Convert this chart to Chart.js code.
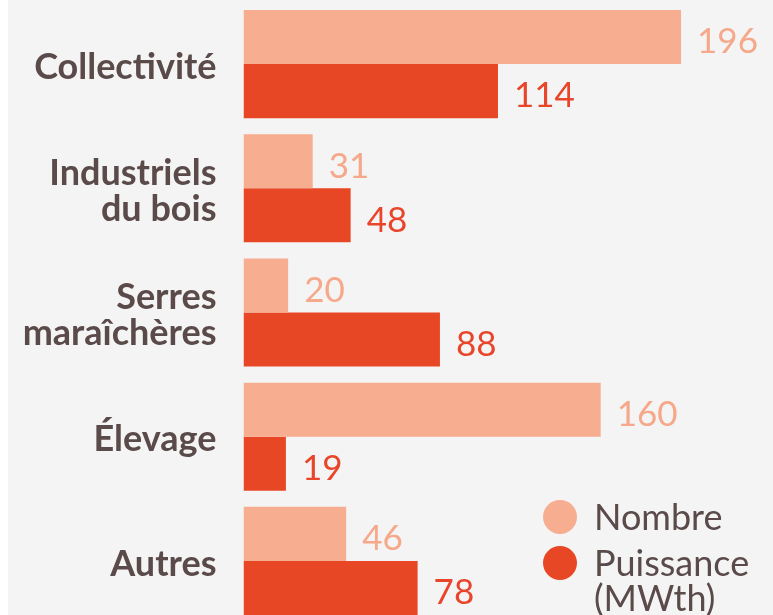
<!DOCTYPE html>
<html>
<head>
<meta charset="utf-8">
<script src="https://cdn.jsdelivr.net/npm/chart.js@4"></script>
<style>
  html, body { margin: 0; padding: 0; background: #ffffff; overflow: hidden; width: 773px; height: 615px; }
  #wrap { position: absolute; left: 0; top: 0; width: 773px; height: 625px; }
</style>
</head>
<body>
<div id="wrap"><canvas id="c" width="773" height="625"></canvas></div>
<script>
const categories = ['Collectivité', ['Industriels', 'du bois'], ['Serres', 'maraîchères'], 'Élevage', 'Autres'];
const nombre = [196, 31, 20, 160, 46];
const puissance = [114, 48, 88, 19, 78];
const seriesNames = ['Nombre', 'Puissance (MWth)'];
const legendLines = [['Nombre'], ['Puissance', '(MWth)']];

const barColors = ['#f7ad8f', '#e84726'];
const labelColors = ['#f6a88a', '#e8452a'];
const textColor = '#5a4a4a';

const bgPlugin = {
  id: 'bg',
  beforeDraw(chart) {
    const ctx = chart.ctx;
    ctx.save();
    ctx.fillStyle = '#f4f4f4';
    ctx.fillRect(8, 0, chart.width - 8, chart.height);
    ctx.restore();
  }
};

const valueLabels = {
  id: 'valueLabels',
  afterDatasetsDraw(chart) {
    const ctx = chart.ctx;
    ctx.save();
    ctx.font = '35px Lato';
    ctx.textAlign = 'left';
    ctx.textBaseline = 'middle';
    chart.data.datasets.forEach((ds, di) => {
      const meta = chart.getDatasetMeta(di);
      ctx.fillStyle = labelColors[di];
      meta.data.forEach((bar, i) => {
        ctx.fillText(String(ds.data[i]), bar.x + 16, bar.y + 5);
      });
    });
    ctx.restore();
  }
};

const customLegend = {
  id: 'customLegend',
  afterDraw(chart) {
    const ctx = chart.ctx;
    ctx.save();
    const cx = 560;
    const rows = [517, 563];
    ctx.font = '36px Lato';
    ctx.textAlign = 'left';
    ctx.textBaseline = 'alphabetic';
    chart.data.datasets.forEach((ds, di) => {
      const cy = rows[di];
      ctx.fillStyle = ds.backgroundColor;
      ctx.beginPath();
      ctx.arc(cx, cy, 17, 0, Math.PI * 2);
      ctx.fill();
      ctx.fillStyle = textColor;
      legendLines[di].forEach((line, li) => {
        ctx.fillText(line, 594, cy + 13 + li * 35);
      });
    });
    ctx.restore();
  }
};

new Chart(document.getElementById('c'), {
  type: 'bar',
  data: {
    labels: categories,
    datasets: [
      { label: seriesNames[0], data: nombre, backgroundColor: barColors[0], borderWidth: 0, barPercentage: 1, categoryPercentage: 0.87 },
      { label: seriesNames[1], data: puissance, backgroundColor: barColors[1], borderWidth: 0, barPercentage: 1, categoryPercentage: 0.87 }
    ]
  },
  options: {
    indexAxis: 'y',
    responsive: false,
    animation: false,
    devicePixelRatio: 1,
    layout: { padding: { top: 2, bottom: 2, left: 0, right: 0 } },
    plugins: { legend: { display: false }, tooltip: { enabled: false } },
    scales: {
      x: { display: false, min: 0, max: 237.2 },
      y: {
        grid: { display: false, drawTicks: false },
        border: { display: false },
        ticks: {
          color: textColor,
          padding: 27,
          labelOffset: 3,
          font: { family: 'Lato', weight: 'bold', size: 36, lineHeight: 1.0 }
        },
        afterFit(scale) {
          scale.width = 243.5;
          scale.paddingTop = 0;
          scale.paddingBottom = 0;
        }
      }
    }
  },
  plugins: [bgPlugin, valueLabels, customLegend]
});
</script>
</body>
</html>
